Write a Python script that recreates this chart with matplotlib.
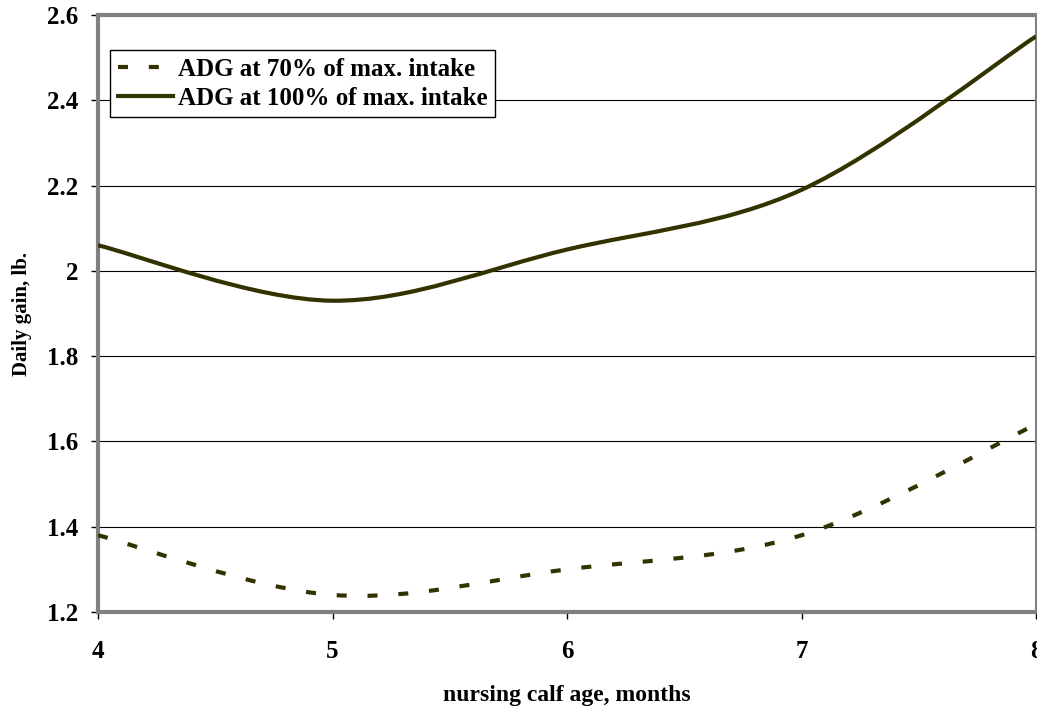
import matplotlib
matplotlib.use('Agg')
import matplotlib.pyplot as plt
from matplotlib.path import Path
from matplotlib.patches import PathPatch
from matplotlib.lines import Line2D

# Average daily gain of nursing calves by age
age_months = [4, 5, 6, 7, 8]
adg_70 = [1.38, 1.24, 1.30, 1.38, 1.64]
adg_100 = [2.06, 1.93, 2.05, 2.19, 2.55]
y_ticks = [1.2, 1.4, 1.6, 1.8, 2.0, 2.2, 2.4, 2.6]
y_tick_labels = ['1.2', '1.4', '1.6', '1.8', '2', '2.2', '2.4', '2.6']

line_color = '#333300'
frame_color = '#808080'

plt.rcParams['font.family'] = ['Liberation Serif', 'DejaVu Serif']
plt.rcParams['font.weight'] = 'bold'


def smooth_path(xs, ys):
    # Bezier segments through each point, spreadsheet-style smoothing
    pts = list(zip(xs, ys))
    verts = [pts[0]]
    codes = [Path.MOVETO]
    n = len(pts)
    for i in range(n - 1):
        p0 = pts[i - 1] if i > 0 else pts[i]
        p1 = pts[i]
        p2 = pts[i + 1]
        p3 = pts[i + 2] if i + 2 < n else pts[i + 1]
        c1 = (p1[0] + (p2[0] - p0[0]) / 6, p1[1] + (p2[1] - p0[1]) / 6)
        c2 = (p2[0] - (p3[0] - p1[0]) / 6, p2[1] - (p3[1] - p1[1]) / 6)
        verts += [c1, c2, p2]
        codes += [Path.CURVE4] * 3
    return Path(verts, codes)


fig = plt.figure(figsize=(10.37, 7.08), dpi=100)
ax = fig.add_axes([98 / 1037, 1 - 612 / 708, 938 / 1037, 597 / 708])

dash = (0, (2.4, 5.0))
ax.add_patch(PathPatch(smooth_path(age_months, adg_70), fill=False,
                       edgecolor=line_color, lw=3, linestyle=dash,
                       capstyle='butt', zorder=3))
ax.add_patch(PathPatch(smooth_path(age_months, adg_100), fill=False,
                       edgecolor=line_color, lw=3, capstyle='butt', zorder=3))

ax.set_xlim(4, 8)
ax.set_ylim(1.2, 2.6)
ax.set_xticks(age_months)
ax.set_yticks(y_ticks)
ax.set_yticklabels(y_tick_labels)
ax.yaxis.grid(True, color='black', lw=0.8)
ax.set_axisbelow(True)

ax.tick_params(axis='both', direction='out', length=5, width=1, color='black',
               labelsize=18)
ax.tick_params(axis='x', pad=15)
ax.tick_params(axis='y', pad=9)

for side in ['left', 'top', 'bottom']:
    ax.spines[side].set_color(frame_color)
    ax.spines[side].set_linewidth(3)
ax.spines['right'].set_color(frame_color)
ax.spines['right'].set_linewidth(1.5)

ax.set_xlabel('nursing calf age, months', fontsize=17, fontweight='bold', labelpad=16)
ax.set_ylabel('Daily gain, lb.', fontsize=15, fontweight='bold', labelpad=11)

handles = [
    Line2D([], [], color=line_color, lw=3, linestyle=dash),
    Line2D([], [], color=line_color, lw=3),
]
leg = ax.legend(handles, ['ADG at 70% of max. intake', 'ADG at 100% of max. intake'],
                loc='upper left', bbox_to_anchor=(12 / 938, 1 - 35 / 597),
                prop={'weight': 'bold', 'size': 18},
                frameon=True, fancybox=False, framealpha=1, edgecolor='black',
                handlelength=2.2, handletextpad=0.2, borderpad=0.3,
                labelspacing=0.25, borderaxespad=0)
leg.get_frame().set_linewidth(1)

fig.savefig('out.png', dpi=100)
plt.close(fig)
